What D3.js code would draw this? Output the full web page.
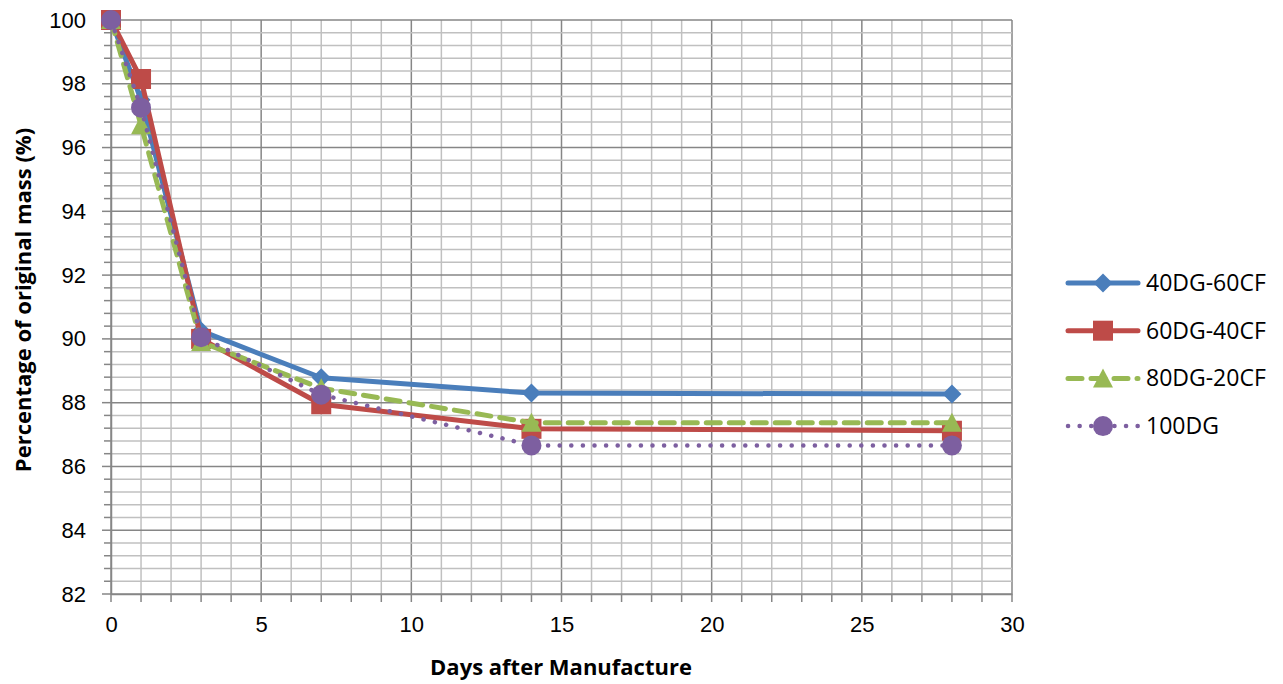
<!DOCTYPE html>
<html><head><meta charset="utf-8">
<script src="https://cdn.jsdelivr.net/npm/d3@7"></script>
<style>body{margin:0;background:#fff;}svg{display:block;font-family:"Open Sans","Liberation Sans",sans-serif;}</style>
</head><body>
<svg id="c" width="1283" height="684"></svg>
<script>
const days = [0, 1, 3, 7, 14, 28];
const s40DG60CF = [100, 97.5, 90.25, 88.78, 88.3, 88.27];
const s60DG40CF = [100, 98.15, 90.0, 87.95, 87.18, 87.12];
const s80DG20CF = [100, 96.7, 89.9, 88.45, 87.37, 87.37];
const s100DG = [100, 97.25, 90.05, 88.25, 86.66, 86.66];
const seriesNames = ["40DG-60CF", "60DG-40CF", "80DG-20CF", "100DG"];
const xTicks = [0, 5, 10, 15, 20, 25, 30];
const yTicks = [82, 84, 86, 88, 90, 92, 94, 96, 98, 100];

const svg = d3.select("#c");
const x = d3.scaleLinear().domain([0, 30]).range([111, 1012]);
const y = d3.scaleLinear().domain([82, 100]).range([594, 20]);

const series = [
  {name: seriesNames[0], vals: s40DG60CF, color: "#4a7ebb", dash: null, marker: "diamond"},
  {name: seriesNames[1], vals: s60DG40CF, color: "#be4b48", dash: null, marker: "square"},
  {name: seriesNames[2], vals: s80DG20CF, color: "#98b954", dash: "14,9", marker: "triangle"},
  {name: seriesNames[3], vals: s100DG, color: "#7d5fa0", dash: "0.1,11.5", marker: "circle"}
];

// gridlines
const g = svg.append("g");
g.selectAll(".v").data(d3.range(0, 31)).join("line")
  .attr("x1", d => x(d)).attr("x2", d => x(d)).attr("y1", y(82)).attr("y2", y(100))
  .attr("stroke", d => d % 5 === 0 ? "#868686" : "#c0c0c0").attr("stroke-width", 1.5);
g.selectAll(".h").data(d3.range(0, 46).map(i => 82 + i * 0.4)).join("line")
  .attr("x1", x(0)).attr("x2", x(30)).attr("y1", d => y(d)).attr("y2", d => y(d))
  .attr("stroke", (d, i) => i % 5 === 0 ? "#868686" : "#c0c0c0").attr("stroke-width", 1.5);

// axes
const xAxis = d3.axisBottom(x).tickValues(xTicks).tickSize(0).tickPadding(22);
const xa = svg.append("g").attr("transform", `translate(0,${y(82)})`).call(xAxis);
xa.select(".domain").attr("stroke", "#868686").attr("stroke-width", 1.5);
xa.selectAll("text").attr("font-size", 22).attr("fill", "#000");
svg.append("g").selectAll("line").data(d3.range(0, 31)).join("line")
  .attr("x1", d => x(d)).attr("x2", d => x(d)).attr("y1", y(82)).attr("y2", y(82) + 8)
  .attr("stroke", "#868686").attr("stroke-width", 1.5);

const yAxis = d3.axisLeft(y).tickValues(yTicks).tickSize(0).tickPadding(25);
const ya = svg.append("g").attr("transform", `translate(${x(0)},0)`).call(yAxis);
ya.select(".domain").attr("stroke", "#868686").attr("stroke-width", 1.5);
ya.selectAll("text").attr("font-size", 22).attr("fill", "#000");
svg.append("g").selectAll("line").data(d3.range(0, 46).map(i => 82 + i * 0.4)).join("line")
  .attr("x1", (d, i) => x(0) - (i % 5 === 0 ? 9 : 7)).attr("x2", x(0)).attr("y1", d => y(d)).attr("y2", d => y(d))
  .attr("stroke", "#868686").attr("stroke-width", 1.5);

// axis titles
svg.append("text").attr("x", 561).attr("y", 675).attr("text-anchor", "middle")
  .attr("font-size", 22).attr("font-weight", "bold").text("Days after Manufacture");
svg.append("text").attr("transform", "translate(31,300) rotate(-90)").attr("text-anchor", "middle")
  .attr("font-size", 22).attr("font-weight", "bold").text("Percentage of original mass (%)");

function drawMarker(sel, type, color, cx, cy) {
  if (type === "diamond") {
    sel.append("path").attr("d", `M${cx},${cy-9.5}L${cx+9.5},${cy}L${cx},${cy+9.5}L${cx-9.5},${cy}Z`).attr("fill", color);
  } else if (type === "square") {
    sel.append("rect").attr("x", cx - 10).attr("y", cy - 10).attr("width", 20).attr("height", 20).attr("fill", color);
  } else if (type === "triangle") {
    sel.append("path").attr("d", `M${cx},${cy-10}L${cx+10},${cy+9}L${cx-10},${cy+9}Z`).attr("fill", color);
  } else {
    sel.append("circle").attr("cx", cx).attr("cy", cy).attr("r", 10).attr("fill", color);
  }
}

const line = d3.line().x((d, i) => x(days[i])).y(d => y(d));
series.forEach(s => {
  const gs = svg.append("g");
  gs.append("path").datum(s.vals).attr("d", line).attr("fill", "none")
    .attr("stroke", s.color).attr("stroke-width", s.marker === "circle" ? 4.5 : 5)
    .attr("stroke-linecap", "round").attr("stroke-linejoin", "round")
    .attr("stroke-dasharray", s.dash);
  s.vals.forEach((v, i) => drawMarker(gs, s.marker, s.color, x(days[i]), y(v)));
});

// legend
const lg = svg.append("g");
series.forEach((s, i) => {
  const ly = 283 + i * 47.7;
  lg.append("line").attr("x1", 1068).attr("x2", 1138).attr("y1", ly).attr("y2", ly)
    .attr("stroke", s.color).attr("stroke-width", s.marker === "circle" ? 4.5 : 5)
    .attr("stroke-linecap", "round").attr("stroke-dasharray", s.dash);
  drawMarker(lg, s.marker, s.color, 1103, ly);
  lg.append("text").attr("x", 1146).attr("y", ly + 8).attr("font-size", 23).text(s.name);
});
</script>
</body></html>
